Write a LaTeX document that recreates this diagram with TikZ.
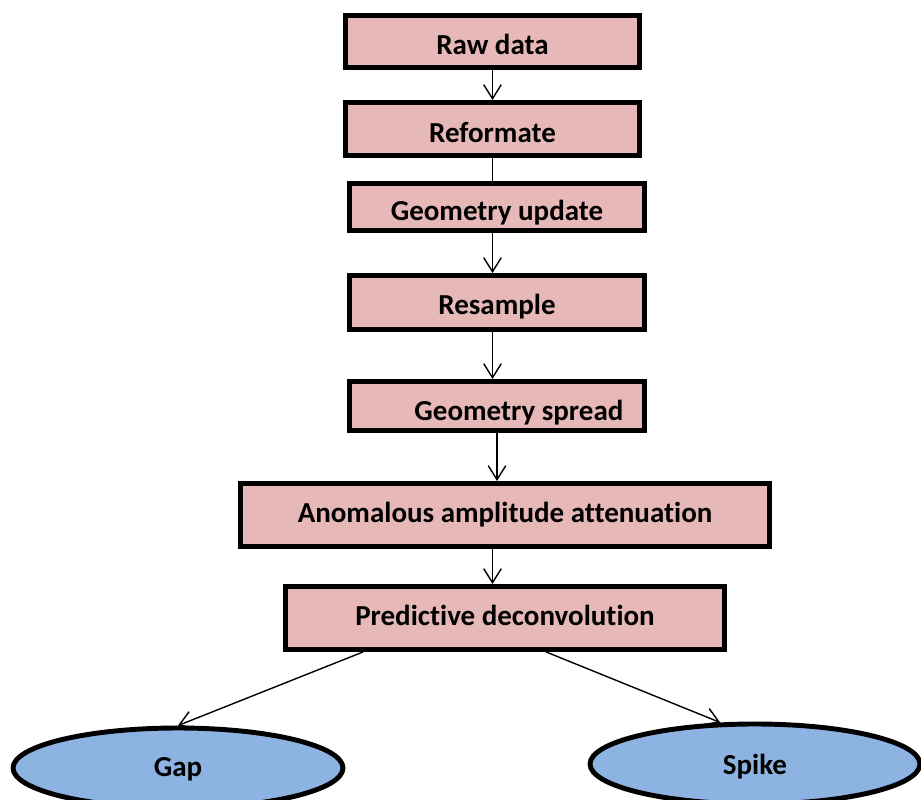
\documentclass[tikz,border=0pt]{standalone}
\usepackage{fontspec}
\setmainfont{Carlito}[Ligatures=NoCommon]
\usetikzlibrary{shapes.geometric,arrows.meta}

\definecolor{rosebox}{HTML}{E6B8B7}
\definecolor{bleuel}{HTML}{8DB3E2}

\begin{document}
\begin{tikzpicture}[
       x=0.02cm,
       y=-0.02cm,
       etape/.style={
         rectangle,
         draw=black,
         fill=rosebox,
         line width=2.8pt,
         minimum width=5.88cm,
         inner sep=0pt,
         text height=0pt,
         text depth=0pt,
         font=\fontsize{16.5}{18}\selectfont\bfseries
       },
       issue/.style={
         ellipse,
         draw=black,
         fill=bleuel,
         line width=2.8pt,
         minimum width=6.6cm,
         minimum height=1.6cm,
         inner sep=0pt,
         text height=0pt,
         text depth=0pt,
         font=\fontsize{16.5}{18}\selectfont\bfseries
       },
       fleche/.style={
         line width=0.8pt,
         -{Straight Barb[length=8pt,width=10pt]}
       }
     ]

       \useasboundingbox (0,0) rectangle (921,800);
       \clip (0,0) rectangle (921,800);

       \node (r1) at (492.5,41.5) [etape,minimum height=1.04cm]{\raisebox{-7.6pt}{Raw data}};
       \node (r2) at (492.5,129) [etape,minimum height=1.06cm]{\raisebox{-7.9pt}{Reformate}};
       \node (r3) at (497,207) [etape,minimum width=5.9cm,minimum height=0.94cm]{\raisebox{-7.9pt}{Geometry update}};
       \node (r4) at (497,302.5) [etape,minimum width=5.9cm,minimum height=1.08cm]{\raisebox{-7.1pt}{Resample}};
       \node (r5) at (497,406) [etape,minimum width=5.9cm,minimum height=0.98cm]{\raisebox{-8.5pt}{\hspace*{25pt}Geometry spread}};
       \node (r6) at (505,515) [etape,minimum width=10.58cm,minimum height=1.26cm]{\raisebox{-4.5pt}{Anomalous amplitude attenuation}};
       \node (r7) at (505,618) [etape,minimum width=8.78cm,minimum height=1.26cm]{\raisebox{-4pt}{Predictive deconvolution}};
       \node (g) at (178,768) [issue]{\raisebox{-5.1pt}{Gap}};
       \node (s) at (755,764) [issue]{\raisebox{-6.2pt}{Spike}};

       \draw [fleche] (r1.south) -- (r1.south |- r2.north);
       \draw [line width=0.8pt] (r1.south |- r2.south) -- (r1.south |- r3.north);
       \draw [fleche] (r1.south |- r3.south) -- (r1.south |- r4.north);
       \draw [fleche] (r1.south |- r4.south) -- (r1.south |- r5.north);
       \draw [fleche] (r5.south) -- (r5.south |- r6.north);
       \draw [fleche] (r1.south |- r6.south) -- (r1.south |- r7.north);

       \draw [fleche] (r7.south west) ++(80,0) -- (g.north);
       \draw [fleche] (r7.south west) ++(263,0) -- (s.130);

\end{tikzpicture}
\end{document}
